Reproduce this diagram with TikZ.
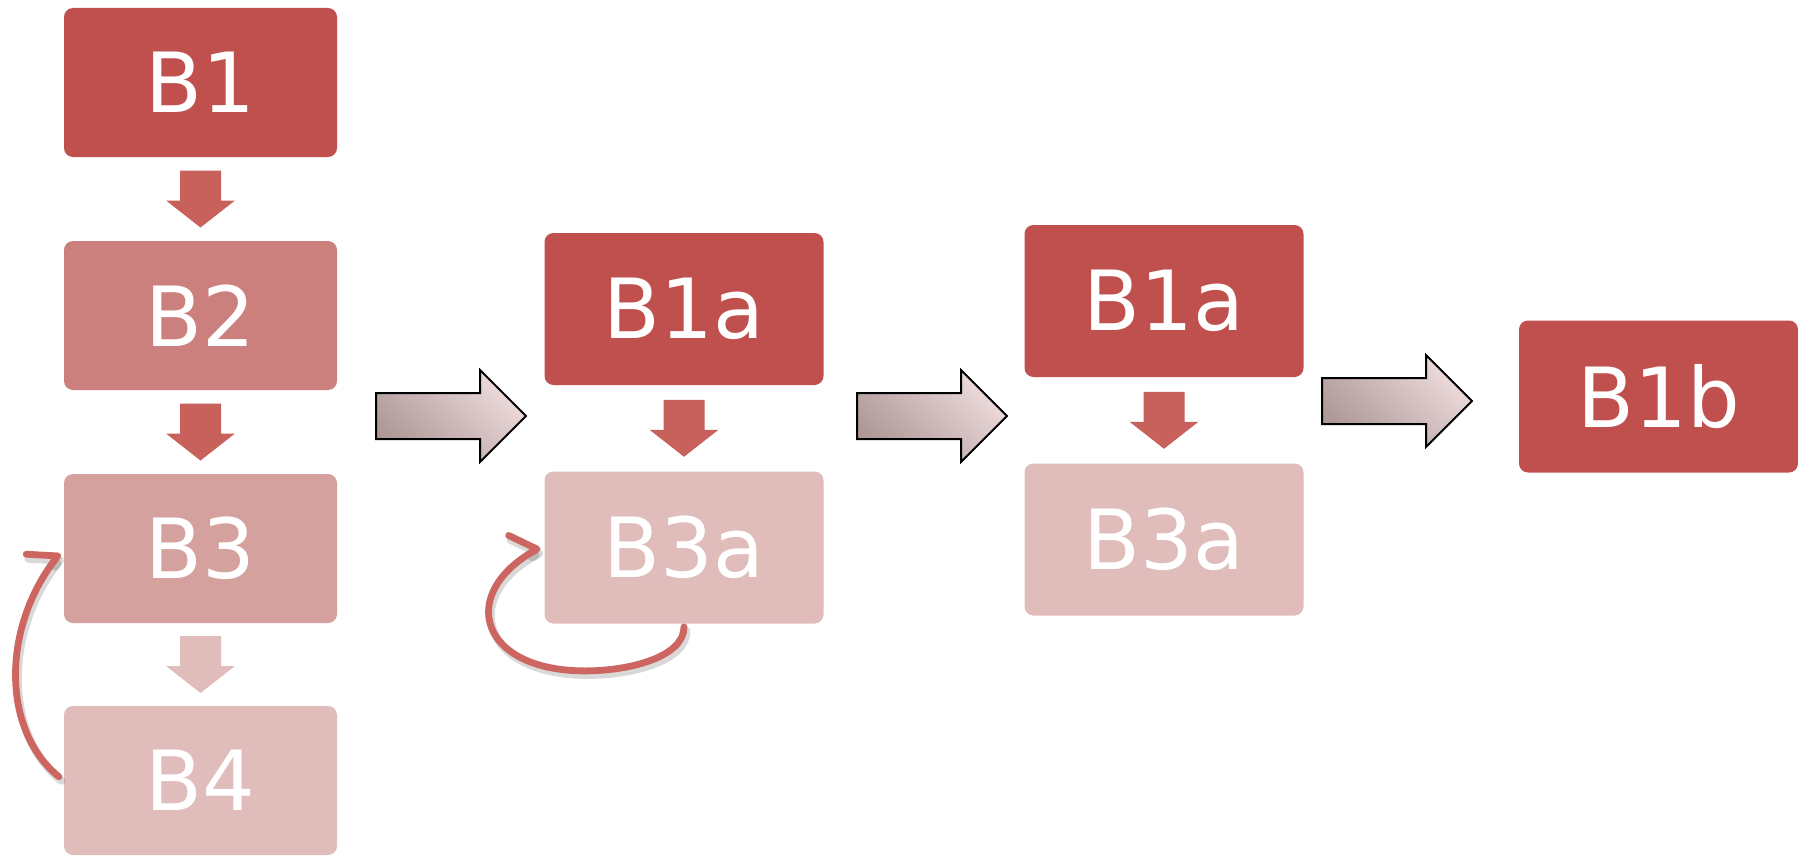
\documentclass[tikz,border=0pt]{standalone}
\usepackage{fontspec}
\setmainfont{DejaVu Sans}
\usetikzlibrary{arrows.meta,calc}

\definecolor{boxred}{HTML}{C0504D}
\definecolor{boxmid}{HTML}{CB807D}
\definecolor{boxsoft}{HTML}{D4A19F}
\definecolor{boxpale}{HTML}{E0BCBB}
\definecolor{stepred}{HTML}{C8605B}
\definecolor{loopred}{HTML}{CD6560}
\definecolor{stagedark}{HTML}{AE9898}
\definecolor{stagelight}{HTML}{EEDCDC}

\begin{document}
\begin{tikzpicture}[
        x=0.5pt, y=-0.5pt,
        box/.style={
            rectangle,
            rounded corners=4.5pt,
            minimum width=136.5pt,
            minimum height=74.5pt,
            inner sep=0pt,
            text=white,
            font=\fontsize{41.5}{48}\selectfont
        },
        widebox/.style={
            box,
            minimum width=139.5pt,
            minimum height=76pt
        },
        stagearrow/.style={
            draw=black,
            line width=1pt,
            top color=stagelight,
            bottom color=stagedark,
            shading angle=-45
        },
        loop/.style={
            draw=loopred,
            line width=3.4pt,
            line cap=round,
            shorten <=1.5pt,
            -{Straight Barb[harpoon, round, length=9pt, width=26pt]}
        },
        loopshadow/.style={
            loop,
            draw=black,
            opacity=0.15,
            line width=4pt,
            transform canvas={xshift=1.2pt, yshift=-2pt}
        }
    ]
        \useasboundingbox (0,0) rectangle (1798,856);

        % first stage
        \node (b1) [box, fill=boxred] at (200.5,82.5) {B1};
        \node (b2) [box, fill=boxmid] at (200.5,315.5) {B2};
        \node (b3) [box, fill=boxsoft] at (200.5,548.5) {B3};
        \node (b4) [box, fill=boxpale] at (200.5,780.5) {B4};

        % second and third stage
        \node (s2b1a) [widebox, fill=boxred] at (684,309) {B1a};
        \node (s2b3a) [widebox, fill=boxpale] at (684,547.5) {B3a};
        \node (s3b1a) [widebox, fill=boxred] at (1164,301) {B1a};
        \node (s3b3a) [widebox, fill=boxpale] at (1164,539.5) {B3a};

        % last stage
        \node (s4b1b) [widebox, fill=boxred] at (1658.5,396.5) {B1b};

        % block arrows down
        \foreach \a/\b/\c in {b1/b2/stepred, b2/b3/stepred, b3/b4/boxpale,
                s2b1a/s2b3a/stepred, s3b1a/s3b3a/stepred}{
            \coordinate (m) at ($(\a.south)!0.5!(\b.north)$);
            \fill[\c] ($(m)+(-20.5,-28.5)$) -- ($(m)+(20.5,-28.5)$)
                -- ($(m)+(20.5,1.5)$) -- ($(m)+(34.5,1.5)$) -- ($(m)+(0,28.5)$)
                -- ($(m)+(-34.5,1.5)$) -- ($(m)+(-20.5,1.5)$) -- cycle;
        }

        % arrows between stages
        \foreach \x/\y in {376/416, 857/416, 1322/401}{
            \path[stagearrow] (\x,\y-23) -- (\x+104,\y-23) -- (\x+104,\y-46)
                -- (\x+150,\y) -- (\x+104,\y+46) -- (\x+104,\y+23)
                -- (\x,\y+23) -- cycle;
        }

        % loops back, shadow first
        \coordinate (loopend) at ($(s2b3a.south)+(-99,47)$);
        \foreach \s in {loopshadow, loop}{
            \draw[\s, shorten >=3pt, shorten <=3pt] (b4.west)
                .. controls +(-62,-50) and +(-62,80) .. (b3.west);
            \draw[\s] (s2b3a.south) .. controls +(0,33) and +(45,0) .. (loopend)
                .. controls +(-105,0) and +(-83,47) .. ([xshift=-2pt]s2b3a.west);
        }
    \end{tikzpicture}
\end{document}
